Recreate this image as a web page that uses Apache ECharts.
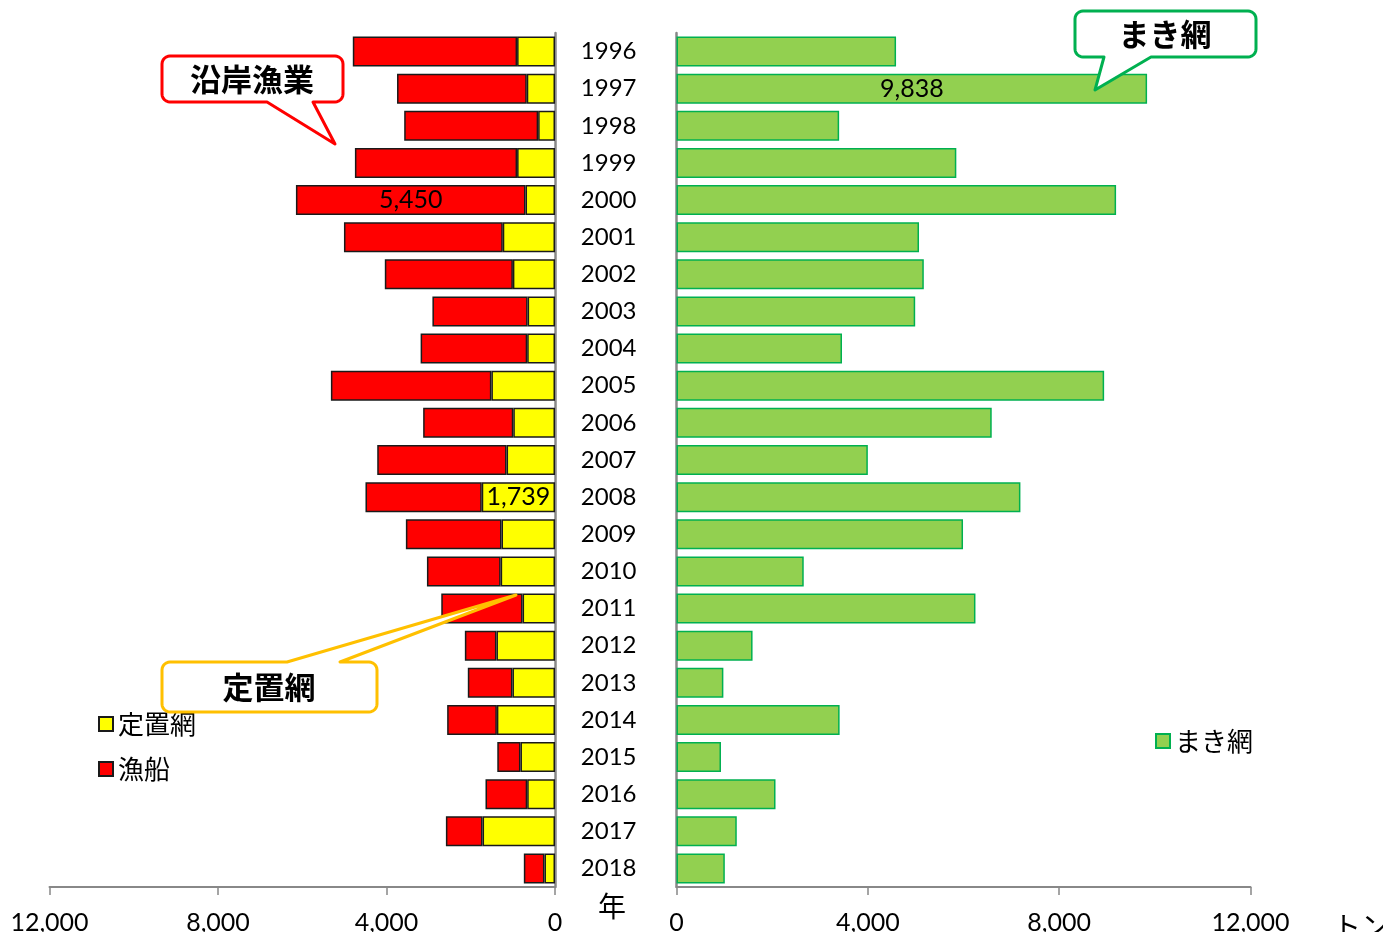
<!DOCTYPE html>
<html>
<head>
<meta charset="utf-8">
<title>沿岸漁業・まき網</title>
<script src="https://cdn.jsdelivr.net/npm/echarts@6/dist/echarts.min.js"></script>
<style>
  html, body { margin: 0; padding: 0; background: #fff; }
  #chart { width: 1383px; height: 932px; }
</style>
</head>
<body>
<div id="chart"></div>
<script>
// years, top to bottom
const years = ['1996', '1997', '1998', '1999', '2000', '2001', '2002', '2003', '2004', '2005', '2006', '2007',
  '2008', '2009', '2010', '2011', '2012', '2013', '2014', '2015', '2016', '2017', '2018']
// 沿岸漁業 (tons)
const teichiami = [900, 670, 400, 900, 700, 1240, 1000, 650, 660, 1510, 990, 1150,
  1739, 1270, 1290, 770, 1390, 1010, 1380, 820, 660, 1720, 250]
const gyosen = [3900, 3080, 3180, 3850, 5450, 3770, 3040, 2260, 2530, 3810, 2140, 3070,
  2760, 2270, 1750, 1930, 750, 1060, 1180, 550, 990, 870, 490]
// まき網 (tons)
const makiami = [4590, 9838, 3400, 5850, 9190, 5070, 5170, 4990, 3460, 8940, 6590, 4000,
  7190, 5990, 2660, 6250, 1590, 980, 3410, 930, 2070, 1260, 1010]
// ticks on both value axes
const tickMax = 12000
const tickStep = 4000
// the single value written on each series
const teichiamiLabelYear = '2008'
const gyosenLabelYear = '2000'
const makiamiLabelYear = '1997'

const numFont = 'Lato, "Noto Sans CJK JP", sans-serif'
const jpFont = '"Noto Sans CJK JP", sans-serif'

function commas(v) {
  return String(v).replace(/\B(?=(\d{3})+(?!\d))/g, ',')
}

function withLabel(values, labelYear) {
  return values.map((v, i) => {
    if (years[i] !== labelYear) return v
    return {
      value: v,
      label: {
        show: true,
        position: 'inside',
        formatter: (p) => commas(p.value),
        color: '#000',
        fontSize: 25,
        fontFamily: numFont,
      },
    }
  })
}

// rounded box with a pointed tail, as polygon points
// tail: [[x, y], [tipX, tipY], [x, y]] in drawing order, on 'top' or 'bottom'
function callout(x0, y0, x1, y1, r, side, tail) {
  const pts = []
  const arc = (cx, cy, a0, a1) => {
    for (let k = 0; k <= 6; k++) {
      const a = (a0 + (a1 - a0) * k / 6) * Math.PI / 180
      pts.push([cx + r * Math.cos(a), cy + r * Math.sin(a)])
    }
  }
  arc(x0 + r, y0 + r, 180, 270)
  if (side === 'top') tail.forEach((p) => pts.push(p))
  arc(x1 - r, y0 + r, 270, 360)
  arc(x1 - r, y1 - r, 0, 90)
  if (side === 'bottom') tail.forEach((p) => pts.push(p))
  arc(x0 + r, y1 - r, 90, 180)
  return pts
}

function calloutGraphic(points, stroke, text, cx, cy) {
  return [
    {
      type: 'polygon',
      z: 100,
      shape: { points: points },
      style: { fill: '#fff', stroke: stroke, lineWidth: 3, lineJoin: 'round' },
    },
    {
      type: 'text',
      z: 101,
      x: cx,
      y: cy,
      style: {
        text: text, fill: '#000', font: 'bold 31px "Noto Sans CJK JP"',
        align: 'center', verticalAlign: 'middle',
      },
    },
  ]
}

const axisGray = '#888888'
const legendText = { fontSize: 26, color: '#000', fontFamily: jpFont }

const chart = echarts.init(document.getElementById('chart'))
const option = {
  animation: false,
  backgroundColor: '#fff',
  grid: [
    { left: 49.5, width: 505.5, top: 33, bottom: 45, outerBoundsMode: 'none' },
    { left: 676.5, width: 574, top: 33, bottom: 45, outerBoundsMode: 'none' },
  ],
  legend: [
    {
      data: ['定置網', '漁船'],
      orient: 'vertical',
      left: 93,
      top: 706,
      icon: 'rect',
      itemWidth: 14,
      itemHeight: 14,
      itemGap: 19,
      selectedMode: false,
      textStyle: legendText,
    },
    {
      data: ['まき網'],
      left: 1150,
      top: 723,
      icon: 'rect',
      itemWidth: 14,
      itemHeight: 14,
      selectedMode: false,
      textStyle: legendText,
    },
  ],
  xAxis: [
    {
      type: 'value',
      gridIndex: 0,
      inverse: true,
      min: 0,
      max: tickMax,
      interval: tickStep,
      splitLine: { show: false },
      axisLine: { show: true, lineStyle: { color: axisGray, width: 2 } },
      axisTick: { show: true, length: 8, lineStyle: { color: axisGray, width: 1.5 } },
      axisLabel: { margin: 23, fontSize: 25, color: '#000', fontFamily: numFont, formatter: commas },
    },
    {
      type: 'value',
      gridIndex: 1,
      min: 0,
      max: tickMax,
      interval: tickStep,
      splitLine: { show: false },
      axisLine: { show: true, lineStyle: { color: axisGray, width: 2 } },
      axisTick: { show: true, length: 8, lineStyle: { color: axisGray, width: 1.5 } },
      axisLabel: { margin: 23, fontSize: 25, color: '#000', fontFamily: numFont, formatter: commas },
    },
  ],
  yAxis: [
    {
      type: 'category',
      gridIndex: 0,
      position: 'right',
      inverse: true,
      data: years,
      axisLine: { show: true, lineStyle: { color: axisGray, width: 2.5 } },
      axisTick: { show: false },
      axisLabel: { show: false },
    },
    {
      type: 'category',
      gridIndex: 1,
      position: 'left',
      inverse: true,
      data: years,
      axisLine: { show: true, lineStyle: { color: axisGray, width: 2.5 } },
      axisTick: { show: false },
      axisLabel: {
        margin: 40,
        align: 'right',
        fontSize: 24,
        color: '#000',
        fontFamily: numFont,
        padding: [4, 0, 0, 0],
      },
    },
  ],
  series: [
    {
      name: '定置網',
      type: 'bar',
      xAxisIndex: 0,
      yAxisIndex: 0,
      stack: 'coast',
      barWidth: 30,
      itemStyle: { color: '#FFFF00', borderColor: '#1a1a1a', borderWidth: 1.5 },
      data: withLabel(teichiami, teichiamiLabelYear),
    },
    {
      name: '漁船',
      type: 'bar',
      xAxisIndex: 0,
      yAxisIndex: 0,
      stack: 'coast',
      barWidth: 30,
      itemStyle: { color: '#FF0000', borderColor: '#1a1a1a', borderWidth: 1.5 },
      data: withLabel(gyosen, gyosenLabelYear),
    },
    {
      name: 'まき網',
      type: 'bar',
      xAxisIndex: 1,
      yAxisIndex: 1,
      barWidth: 30,
      itemStyle: { color: '#92D050', borderColor: '#00B050', borderWidth: 1.5 },
      data: withLabel(makiami, makiamiLabelYear),
    },
  ],
  graphic: [
    ...calloutGraphic(
      callout(162, 56, 343, 102, 8, 'bottom', [[313, 102], [335, 144], [267, 102]]),
      '#FF0000', '沿岸漁業', 252, 79),
    ...calloutGraphic(
      callout(1075, 11, 1256, 57, 8, 'bottom', [[1151, 57], [1095, 90], [1104, 57]]),
      '#00B050', 'まき網', 1165, 34),
    ...calloutGraphic(
      callout(162, 662, 377, 712, 8, 'top', [[287, 662], [516, 595], [340, 662]]),
      '#FFC000', '定置網', 269, 687),
    // axis captions
    {
      type: 'text',
      x: 612,
      y: 906,
      style: {
        text: '年', fill: '#000', font: '28px "Noto Sans CJK JP"',
        align: 'center', verticalAlign: 'middle',
      },
    },
    {
      type: 'text',
      x: 1333,
      y: 926,
      style: {
        text: 'トン', fill: '#000', font: '28px "Noto Sans CJK JP"',
        align: 'left', verticalAlign: 'middle',
      },
    },
  ],
}
chart.setOption(option)
</script>
</body>
</html>
